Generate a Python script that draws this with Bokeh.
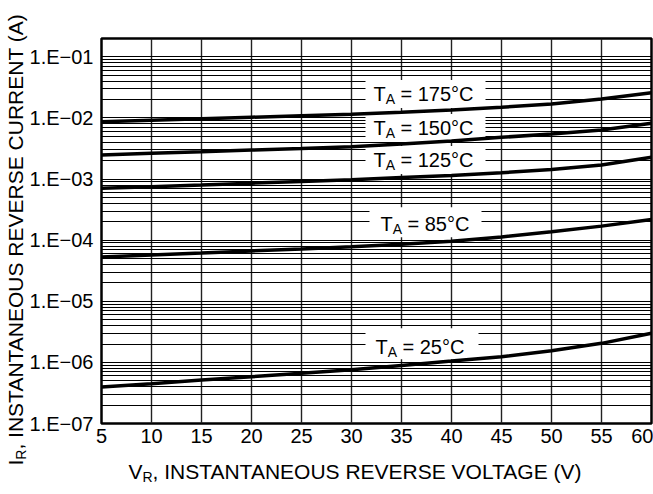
import math
from bokeh.plotting import figure
from bokeh.models import FixedTicker, Label, Range1d
from bokeh.embed import file_html
from bokeh.resources import INLINE

# ---- data ----
voltage = [5, 10, 15, 20, 25, 30, 35, 40, 45, 50, 55, 60]
ir_175 = [8.7e-3, 9.2e-3, 9.75e-3, 1.03e-2, 1.09e-2, 1.15e-2, 1.24e-2, 1.35e-2, 1.50e-2, 1.70e-2, 2.05e-2, 2.60e-2]
ir_150 = [2.47e-3, 2.64e-3, 2.80e-3, 2.99e-3, 3.18e-3, 3.39e-3, 3.75e-3, 4.20e-3, 4.83e-3, 5.47e-3, 6.36e-3, 8.18e-3]
ir_125 = [7.05e-4, 7.5e-4, 8.0e-4, 8.57e-4, 9.14e-4, 9.75e-4, 1.06e-3, 1.14e-3, 1.27e-3, 1.44e-3, 1.70e-3, 2.27e-3]
ir_85 = [5.32e-5, 5.74e-5, 6.19e-5, 6.68e-5, 7.2e-5, 7.82e-5, 8.6e-5, 9.6e-5, 1.13e-4, 1.37e-4, 1.70e-4, 2.18e-4]
ir_25 = [3.94e-7, 4.49e-7, 5.13e-7, 5.83e-7, 6.65e-7, 7.59e-7, 8.93e-7, 1.05e-6, 1.24e-6, 1.55e-6, 2.05e-6, 3.0e-6]
series = [ir_175, ir_150, ir_125, ir_85, ir_25]
temp_labels = ["175°C", "150°C", "125°C", "85°C", "25°C"]

x_ticks = [5, 10, 15, 20, 25, 30, 35, 40, 45, 50, 55, 60]
y_ticks = [1e-7, 1e-6, 1e-5, 1e-4, 1e-3, 1e-2, 1e-1]
y_tick_labels = ["1.E\u221207", "1.E\u221206", "1.E\u221205", "1.E\u221204",
                 "1.E\u221203", "1.E\u221202", "1.E\u221201"]
y_minor = [m * d for d in [1e-7, 1e-6, 1e-5, 1e-4, 1e-3, 1e-2, 1e-1] for m in range(2, 10) if m * d <= 0.2]

x_title_main = "V"
x_title_sub = "R"
x_title_rest = ", INSTANTANEOUS REVERSE VOLTAGE (V)"
y_title_main = "I"
y_title_sub = "R"
y_title_rest = ", INSTANTANEOUS REVERSE CURRENT (A)"

# label placement (text start voltage, baseline current) and white box centres
label_anchor_x = [32.2, 32.2, 32.2, 32.9, 32.4]
label_anchor_y = [1.94e-2, 5.57e-3, 1.63e-3, 1.46e-4, 1.41e-6]
box_cx = [37.4, 37.4, 37.4, 37.4, 37.05]
box_cy = [2.47e-2, 6.86e-3, 2.05e-3, 1.97e-4, 2.01e-6]
box_w = [120, 120, 120, 112, 113]
box_h = [28, 28, 28, 30, 31]

FONT = "Liberation Sans"
LIFT = 6   # baseline correction (px)

p = figure(width=653, height=494, y_axis_type="log",
           x_range=Range1d(5, 60), y_range=Range1d(1e-7, 0.2),
           output_backend="svg", toolbar_location=None,
           min_border_left=101, min_border_right=2, min_border_top=38, min_border_bottom=71)

p.background_fill_color = "white"
p.border_fill_color = "white"
p.outline_line_color = "black"
p.outline_line_width = 2.5

# axes
p.xaxis.ticker = FixedTicker(ticks=x_ticks)
p.yaxis.ticker = FixedTicker(ticks=y_ticks, minor_ticks=y_minor)
p.yaxis.major_label_overrides = {t: l for t, l in zip(y_ticks, y_tick_labels)}
for ax in (p.xaxis, p.yaxis):
    ax.axis_line_color = None
    ax.major_tick_line_color = None
    ax.minor_tick_line_color = None
    ax.major_tick_out = 0
    ax.major_tick_in = 0
    ax.minor_tick_out = 0
    ax.minor_tick_in = 0
    ax.major_label_text_font = FONT
    ax.major_label_text_font_size = "20px"
    ax.major_label_text_color = "black"
p.xaxis.major_label_standoff = 5
p.yaxis.major_label_standoff = 8

# grid
p.xgrid.grid_line_color = "#222222"
p.xgrid.grid_line_width = 1.4
p.ygrid.grid_line_color = "black"
p.ygrid.grid_line_width = 1.2
p.ygrid.minor_grid_line_color = "black"
p.ygrid.minor_grid_line_width = 1.0

# white label boxes
for cx, cy, w, h in zip(box_cx, box_cy, box_w, box_h):
    p.rect(x=cx, y=cy, width=w, height=h, width_units="screen", height_units="screen",
           fill_color="white", line_color=None)

# curves
for s in series:
    p.line(voltage, s, line_color="black", line_width=3.5)

# curve labels with subscript
for ax_, ay_, t in zip(label_anchor_x, label_anchor_y, temp_labels):
    p.add_layout(Label(x=ax_, y=ay_, y_offset=LIFT, text="T", text_font=FONT, text_font_size="20px",
                       text_baseline="alphabetic", text_color="black"))
    p.add_layout(Label(x=ax_, y=ay_, x_offset=12.2, y_offset=LIFT - 5, text="A", text_font=FONT,
                       text_font_size="14px", text_baseline="alphabetic", text_color="black"))
    p.add_layout(Label(x=ax_, y=ay_, x_offset=27, y_offset=LIFT, text="= " + t, text_font=FONT,
                       text_font_size="20px", text_baseline="alphabetic", text_color="black"))

# axis titles: placed in side panels (so they are not clipped to the frame);
# positions are in data units so the panel they live in only affects spacing.
TL = 7
xt_x, xt_y = 7.7, 1.253e-8
yt_x, yt_y = -2.9, 2.05e-8
lab_x_main = Label(x=xt_x, y=xt_y, y_offset=TL, text=x_title_main, text_font=FONT, text_font_size="21px",
                   text_baseline="alphabetic", text_color="black")
lab_x_sub = Label(x=xt_x, y=xt_y, x_offset=14, y_offset=TL - 5, text=x_title_sub, text_font=FONT,
                  text_font_size="14px", text_baseline="alphabetic", text_color="black")
lab_x_rest = Label(x=xt_x, y=xt_y, x_offset=24, y_offset=TL, text=x_title_rest, text_font=FONT,
                   text_font_size="21px", text_baseline="alphabetic", text_color="black")
lab_y_main = Label(x=yt_x, y=yt_y, x_offset=-TL, text=y_title_main, angle=math.pi / 2, text_font=FONT,
                   text_font_size="21px", text_baseline="alphabetic", text_color="black")
lab_y_sub = Label(x=yt_x, y=yt_y, x_offset=5 - TL, y_offset=5.8, text=y_title_sub, angle=math.pi / 2,
                  text_font=FONT, text_font_size="14px", text_baseline="alphabetic", text_color="black")
lab_y_rest = Label(x=yt_x, y=yt_y, x_offset=-TL, y_offset=16, text=y_title_rest, angle=math.pi / 2,
                   text_font=FONT, text_font_size="21px", text_baseline="alphabetic", text_color="black")

p.add_layout(lab_y_rest, "left")
p.add_layout(lab_x_rest, "above")
p.add_layout(lab_y_sub, "above")
p.add_layout(lab_x_main, "below")
p.add_layout(lab_x_sub, "below")
p.add_layout(lab_y_main, "below")

open("out.html", "w").write(file_html(p, INLINE))
